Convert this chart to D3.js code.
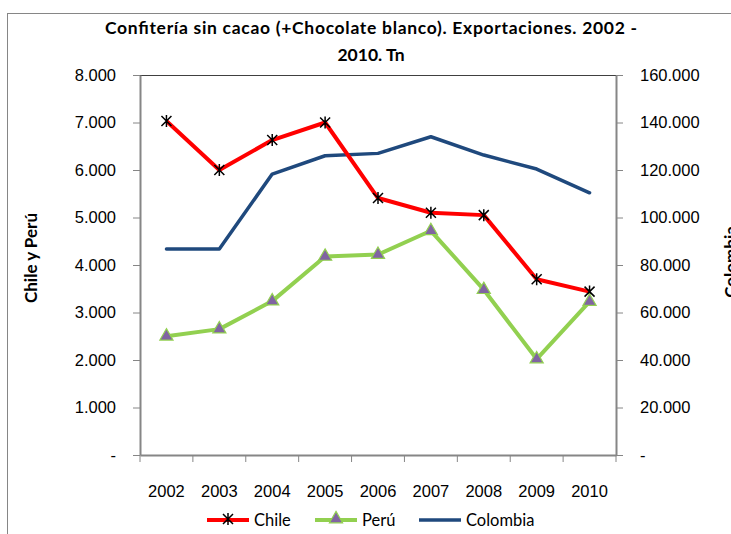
<!DOCTYPE html>
<html>
<head>
<meta charset="utf-8">
<script src="https://cdn.jsdelivr.net/npm/d3@7"></script>
<style>
  body { margin: 0; background: #fff; }
  svg { font-family: "Lato", "Open Sans", sans-serif; }
</style>
</head>
<body>
<script>
// data
const years = ["2002", "2003", "2004", "2005", "2006", "2007", "2008", "2009", "2010"];
const chile = [7030, 6000, 6630, 7000, 5410, 5100, 5050, 3700, 3440];
const peru = [2500, 2650, 3240, 4180, 4220, 4720, 3480, 2020, 3230];
const colombia = [86700, 86700, 118300, 126000, 127000, 134000, 126300, 120400, 110400];
const leftTicks = [0, 1000, 2000, 3000, 4000, 5000, 6000, 7000, 8000];
const rightTicks = [0, 20000, 40000, 60000, 80000, 100000, 120000, 140000, 160000];

const W = 731, H = 534;
const margin = { top: 75, right: 115, bottom: 79, left: 140 };
const width = W - margin.left - margin.right;
const height = H - margin.top - margin.bottom;

const svg = d3.select("body").append("svg")
  .attr("width", W)
  .attr("height", H);

// chart frame
svg.append("rect")
  .attr("x", 7.5).attr("y", 13.5)
  .attr("width", W).attr("height", H)
  .attr("fill", "none").attr("stroke", "#868686");

const g = svg.append("g")
  .attr("transform", `translate(${margin.left}, ${margin.top})`);

const x = d3.scaleBand().domain(years).range([0, width]);
const yL = d3.scaleLinear().domain([0, 8000]).range([height, 0]);
const yR = d3.scaleLinear().domain([0, 160000]).range([height, 0]);

const fmt = v => v === 0 ? "-" : d3.format(",")(v).replace(/,/g, ".");

// plot area top edge
g.append("line")
  .attr("x1", 0).attr("x2", width)
  .attr("y1", 0.5).attr("y2", 0.5)
  .attr("stroke", "#404040");

// axes
const axL = g.append("g")
  .call(d3.axisLeft(yL).tickValues(leftTicks).tickFormat(fmt).tickSize(7).tickSizeOuter(0).tickPadding(17));
const axR = g.append("g")
  .attr("transform", `translate(${width}, 0)`)
  .call(d3.axisRight(yR).tickValues(rightTicks).tickFormat(fmt).tickSize(7).tickSizeOuter(0).tickPadding(17));
const axB = g.append("g")
  .attr("transform", `translate(0, ${height})`)
  .call(d3.axisBottom(x).tickSize(0).tickPadding(30));

// bottom ticks on category boundaries
const bounds = years.map(d => x(d)).concat([width]);
axB.selectAll(".bound").data(bounds).enter().append("line")
  .attr("x1", d => d).attr("x2", d => d)
  .attr("y1", 0).attr("y2", 7)
  .attr("stroke", "#868686");

[axL, axR, axB].forEach(a => {
  a.selectAll("path, line").attr("stroke", "#868686").attr("stroke-width", 2);
  a.selectAll("text").attr("font-size", 16.5).attr("fill", "#000");
  a.select(".domain").attr("stroke-width", 2);
});
axB.selectAll("line").attr("stroke-width", 1);
axL.selectAll(".tick line").attr("stroke-width", 1);
axR.selectAll(".tick line").attr("stroke-width", 1);

const cx = (d, i) => x(years[i]) + x.bandwidth() / 2;

// Colombia
g.append("path")
  .datum(colombia)
  .attr("fill", "none")
  .attr("stroke", "#1F497D")
  .attr("stroke-width", 3.5)
  .attr("stroke-linejoin", "round")
  .attr("stroke-linecap", "round")
  .attr("d", d3.line().x(cx).y(d => yR(d)));

// Chile
g.append("path")
  .datum(chile)
  .attr("fill", "none")
  .attr("stroke", "#FF0000")
  .attr("stroke-width", 4)
  .attr("stroke-linejoin", "round")
  .attr("d", d3.line().x(cx).y(d => yL(d)));

// Perú
g.append("path")
  .datum(peru)
  .attr("fill", "none")
  .attr("stroke", "#92D050")
  .attr("stroke-width", 4)
  .attr("stroke-linejoin", "round")
  .attr("d", d3.line().x(cx).y(d => yL(d)));

const star = "M-5,-5L5,5M-5,5L5,-5M0,-6L0,6";
const tri = d3.symbol().type(d3.symbolTriangle).size(75)();

g.selectAll(".chileM").data(chile).enter().append("path")
  .attr("d", star)
  .attr("transform", (d, i) => `translate(${cx(d, i)}, ${yL(d)})`)
  .attr("stroke", "#000").attr("stroke-width", 1.5).attr("fill", "none");

g.selectAll(".peruM").data(peru).enter().append("path")
  .attr("d", tri)
  .attr("transform", (d, i) => `translate(${cx(d, i)}, ${yL(d)})`)
  .attr("fill", "#8064A2").attr("stroke", "#92D050").attr("stroke-width", 1.2);

// title
const title = svg.append("text")
  .attr("text-anchor", "middle")
  .attr("font-weight", "bold")
  .attr("font-size", 17.5);
title.append("tspan").attr("x", 371).attr("y", 34)
  .attr("textLength", 532).attr("lengthAdjust", "spacing")
  .text("Confitería sin cacao (+Chocolate blanco).  Exportaciones. 2002 -");
title.append("tspan").attr("x", 371).attr("y", 61).text("2010. Tn");

// axis titles
svg.append("text")
  .attr("transform", "translate(37, 258) rotate(-90)")
  .attr("text-anchor", "middle")
  .attr("font-weight", "bold").attr("font-size", 17)
  .text("Chile y Perú");
svg.append("text")
  .attr("transform", "translate(737, 262) rotate(-90)")
  .attr("text-anchor", "middle")
  .attr("font-weight", "bold").attr("font-size", 17)
  .text("Colombia");

// legend
const legend = svg.append("g").attr("transform", "translate(0, 520)");
const items = [
  { name: "Chile", color: "#FF0000", x0: 207, mark: "star" },
  { name: "Perú", color: "#92D050", x0: 315, mark: "tri" },
  { name: "Colombia", color: "#1F497D", x0: 419, mark: null }
];
items.forEach(it => {
  legend.append("line")
    .attr("x1", it.x0).attr("x2", it.x0 + 42)
    .attr("y1", 0).attr("y2", 0)
    .attr("stroke", it.color).attr("stroke-width", it.mark ? 4 : 3.5);
  if (it.mark === "star") {
    legend.append("path").attr("d", star)
      .attr("transform", `translate(${it.x0 + 21}, -1)`)
      .attr("stroke", "#000").attr("stroke-width", 1.5).attr("fill", "none");
  } else if (it.mark === "tri") {
    legend.append("path").attr("d", tri)
      .attr("transform", `translate(${it.x0 + 21}, -1)`)
      .attr("fill", "#8064A2").attr("stroke", "#92D050").attr("stroke-width", 1.2);
  }
  legend.append("text")
    .attr("x", it.x0 + 47).attr("y", 6)
    .attr("font-size", 16.5)
    .text(it.name);
});
</script>
</body>
</html>
